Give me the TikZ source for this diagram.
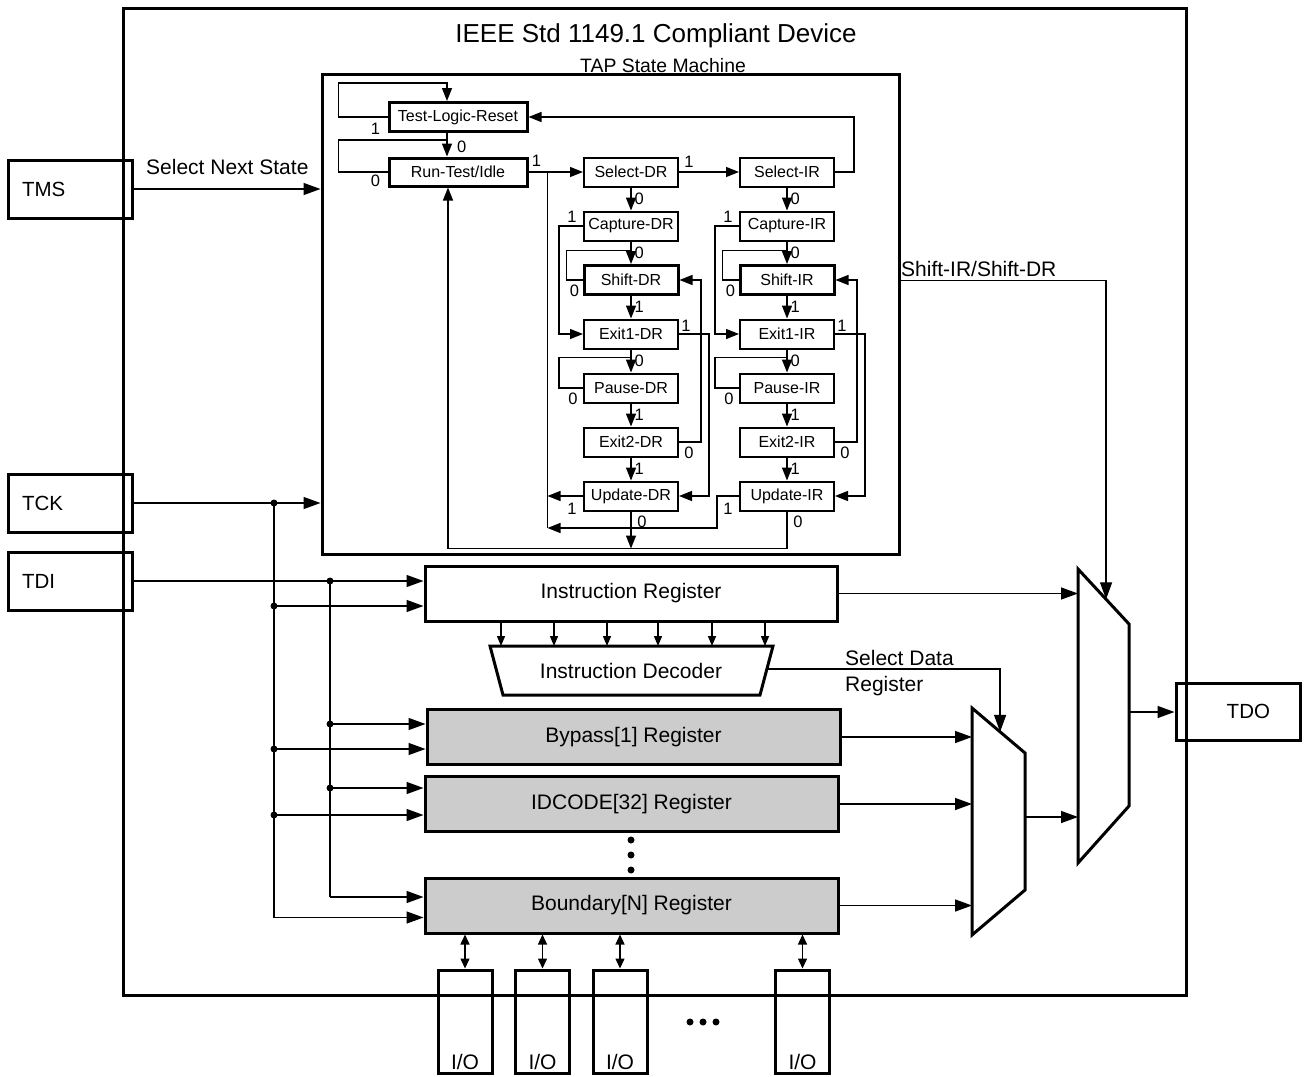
\documentclass[tikz,border=0pt]{standalone}
\usepackage{fontspec}
\setmainfont{Liberation Sans}
\usetikzlibrary{arrows.meta,calc}
\begin{document}
\begin{tikzpicture}[x=1pt,y=-1pt,
  ln/.style={line width=1.4pt},
  arr/.style={ln,-{Triangle[length=13pt,width=10pt]}},
  barr/.style={ln,-{Triangle[length=17pt,width=12pt]}},
  sarr/.style={ln,-{Triangle[length=10pt,width=8pt]}},
  darr/.style={ln,{Triangle[length=10pt,width=9pt]}-{Triangle[length=10pt,width=9pt]}},
  st/.style={draw,line width=2pt,minimum width=94pt,minimum height=29pt,inner sep=0pt,font=\fontsize{16}{18}\selectfont},
  stk/.style={st,line width=3pt},
  lbl/.style={font=\fontsize{16.5}{18}\selectfont,inner sep=0pt},
  reg/.style={draw,line width=3pt,minimum width=413pt,minimum height=55pt,inner sep=0pt,font=\fontsize{21}{24}\selectfont},
  greg/.style={reg,fill=black!20},
  pinbox/.style={draw,line width=3pt,minimum width=124pt,minimum height=58pt,inner xsep=14pt,text width=96pt,align=left,font=\fontsize{20.5}{24}\selectfont},
  iobox/.style={draw,line width=3pt,minimum width=54pt,minimum height=103pt,inner sep=0pt},
  bdot/.style={circle,fill,inner sep=0pt,minimum size=7pt},
  txt/.style={font=\fontsize{21}{26}\selectfont,inner sep=0pt},
  thick3/.style={line width=3pt}
]
\useasboundingbox (0,0) rectangle (1306,1076);

% device
\node[draw,thick3,minimum width=1063pt,minimum height=987pt,inner sep=0pt] (dev) at (654.5,501.5) {};
\node[font=\fontsize{26}{30}\selectfont,inner sep=0pt] (title) at (656,36) {IEEE Std 1149.1 Compliant Device};
\node[font=\fontsize{19.4}{22}\selectfont,inner sep=0pt] (taptitle) at (663,66) {TAP State Machine};

% TAP box
\node[draw,thick3,minimum width=577pt,minimum height=480pt,inner sep=0pt] (tap) at (610.5,314) {};

% states
\node[stk,minimum width=138pt] (tlr) at (458,117) {Test-Logic-Reset};
\node[stk,minimum width=138pt,minimum height=28pt] (rti) at (458,172) {Run-Test/Idle};

\foreach \cc/\xx/\ss in {dr/631/DR,ir/787/IR}{
  \node[st] (sel\cc) at (\xx,172) {Select-\ss};
  \node[st] (cap\cc) at (\xx,226) {Capture-\ss};
  \node[stk] (sh\cc) at (\xx,280) {Shift-\ss};
  \node[st] (ea\cc) at (\xx,334) {Exit1-\ss};
  \node[st] (pa\cc) at (\xx,388) {Pause-\ss};
  \node[st] (eb\cc) at (\xx,442) {Exit2-\ss};
  \node[st] (up\cc) at (\xx,496) {Update-\ss};
  \draw[arr] (sel\cc.south) -- (cap\cc.north) node[lbl,midway,right=3pt] {0};
  \draw[arr] (cap\cc.south) -- (sh\cc.north) node[lbl,midway,right=3pt] {0};
  \draw[arr] (sh\cc.south) -- (ea\cc.north) node[lbl,midway,right=3pt] {1};
  \draw[arr] (ea\cc.south) -- (pa\cc.north) node[lbl,midway,right=3pt] {0};
  \draw[arr] (pa\cc.south) -- (eb\cc.north) node[lbl,midway,right=3pt] {1};
  \draw[arr] (eb\cc.south) -- (up\cc.north) node[lbl,midway,right=3pt] {1};
  \draw[arr] (cap\cc.west) -- ++(-24,0) |- (ea\cc.west);
  \node[lbl] (lc\cc) at ($(cap\cc.west)+(-11,-9)$) {1};
  \draw[ln] (sh\cc.west) -- ++(-16,0) |- ($(cap\cc.south)+(0,9)$);
  \node[lbl] (ls\cc) at ($(sh\cc.west)+(-8,11)$) {0};
  \draw[arr] (ea\cc.east) -- ++(30,0) |- (up\cc.east);
  \node[lbl] (le\cc) at ($(ea\cc.east)+(7,-8)$) {1};
  \draw[ln] (pa\cc.west) -- ++(-24,0) |- ($(ea\cc.south)+(0,8)$);
  \node[lbl] (lp\cc) at ($(pa\cc.west)+(-10,11)$) {0};
  \draw[arr] (eb\cc.east) -- ++(22,0) |- (sh\cc.east);
  \node[lbl] (lx\cc) at ($(eb\cc.east)+(10,11)$) {0};
  \node[lbl] (lu\cc) at ($(up\cc.west)+(-11,13)$) {1};
  \node[lbl] (lv\cc) at ($(up\cc.south)+(11,10)$) {0};
}

% TLR / RTI connections
\draw[arr] ($(tlr.south)+(-11,0)$) -- ($(rti.north)+(-11,0)$);
\node[lbl,anchor=west] (l0a) at ($(tlr.south)+(-1,14)$) {0};
\draw[arr] (tlr.west) -- ++(-49,0) -- ++(0,-34) -| ($(tlr.north)+(-11,0)$);
\node[lbl] (l1a) at ($(tlr.west)+(-12,12)$) {1};
\draw[ln] (rti.west) -- ++(-49,0) |- ($(tlr.south)+(-11,7)$);
\node[lbl] (l0b) at ($(rti.west)+(-12,9)$) {0};
\draw[arr] (rti.east) -- (seldr.west);
\node[lbl] (l1b) at ($(rti.east)+(8,-11)$) {1};
\coordinate (vl) at ($(rti.east)+(19,0)$);
\coordinate (vlb) at ($(vl)+(0,356)$);
\draw[ln] (vl) -- (vlb);
\draw[arr] (updr.west) -- (vl |- updr.west);
\draw[arr] (upir.west) -- ++(-22,0) |- (vlb);
\draw[arr] (seldr.east) -- (selir.west);
\node[lbl] (l1c) at ($(seldr.east)+(10,-10)$) {1};
\draw[arr] (selir.east) -- ++(19,0) |- (tlr.east);
\draw[arr] (upir.south) -- ++(0,37) -| ($(rti.south)+(-10,0)$);
\draw[arr] (updr.south) -- ++(0,37);

% pins
\node[pinbox] (tms) at (70,189) {TMS};
\node[pinbox] (tck) at (70,503) {TCK};
\node[pinbox] (tdi) at (70,581) {TDI};
\node[pinbox,text width=64pt,inner xsep=30pt,align=right,minimum height=57pt] (tdo) at (1238,711.5) {TDO};

\draw[barr] (tms.east) -- (tap.west |- tms.east);
\node[txt,anchor=west] (sns) at (146,167) {Select Next State};
\draw[barr] (tck.east) -- (tap.west |- tck.east);

% registers
\node[reg,minimum width=412pt] (ir) at (631,593.5) {Instruction Register};
\node[greg] (byp) at (633.5,737) {Bypass[1] Register};
\node[greg] (idc) at (631.5,804) {IDCODE[32] Register};
\node[greg] (bnd) at (631.5,905.5) {Boundary[N] Register};

% buses
\coordinate (ckbus) at (274,0);
\coordinate (dibus) at (330,0);
\draw[barr] (tdi.east) -- (ir.west |- tdi.east);
\draw[ln] (ckbus |- tck.east) -- ($(ckbus |- bnd.west)+(0,12)$);
\draw[barr] ($(ckbus |- bnd.west)+(0,12)$) -- ($(bnd.west)+(0,12)$);
\draw[ln] (dibus |- tdi.east) -- ($(dibus |- bnd.west)+(0,-8.5)$);
\draw[barr] ($(dibus |- bnd.west)+(0,-8.5)$) -- ($(bnd.west)+(0,-8.5)$);
\node[bdot] (dck0) at (ckbus |- tck.east) {};
\node[bdot] (ddi0) at (dibus |- tdi.east) {};
\foreach \rr/\dc in {ir/12.5, byp/12, idc/11}{
  \node[bdot] (dck\rr) at ($(ckbus |- \rr.west)+(0,\dc)$) {};
  \draw[barr] (dck\rr.center) -- ($(\rr.west)+(0,\dc)$);
}
\foreach \rr/\dd in {byp/-13, idc/-16}{
  \node[bdot] (ddi\rr) at ($(dibus |- \rr.west)+(0,\dd)$) {};
  \draw[barr] (ddi\rr.center) -- ($(\rr.west)+(0,\dd)$);
}

% decoder
\coordinate (dtl) at (490,646);
\coordinate (dtr) at (773,646);
\coordinate (dbr) at (760,695);
\coordinate (dbl) at (503,695);
\draw[thick3,line join=miter] (dtl) -- (dtr) -- (dbr) -- (dbl) -- cycle;
\node[txt] (dec) at (631,670.5) {Instruction Decoder};
\foreach \xx in {501,554,607,658,712,765}{
  \draw[sarr] (ir.south -| \xx,0) -- (dtl -| \xx,0);
}

% muxes
\coordinate (m1a) at (972,708);
\coordinate (m1b) at (1025,753);
\coordinate (m1c) at (1025,890);
\coordinate (m1d) at (972,935);
\draw[thick3,line join=miter] (m1a) -- (m1b) -- (m1c) -- (m1d) -- cycle;
\coordinate (m2a) at (1078,569);
\coordinate (m2b) at (1129,624);
\coordinate (m2c) at (1129,806);
\coordinate (m2d) at (1078,863);
\draw[thick3,line join=miter] (m2a) -- (m2b) -- (m2c) -- (m2d) -- cycle;

\draw[barr] ($(dtr)!0.47!(dbr)$) -| ($(m1a)!0.53!(m1b)$);
\node[txt,align=left,anchor=north west] (sdrl) at (845,650) {Select Data\\Register};
\draw[barr] ($(tap.north east)+(0,208)$) -| ($(m2a)!0.55!(m2b)$);
\node[txt,anchor=base west] (shl) at (901,276) {Shift-IR/Shift-DR};

\draw[barr] (ir.east) -- (m2a |- ir.east);
\draw[barr] (byp.east) -- (m1a |- byp.east);
\draw[barr] (idc.east) -- (m1a |- idc.east);
\draw[barr] (bnd.east) -- (m1a |- bnd.east);
\coordinate (m1o) at (1025,817);
\draw[barr] (m1o) -- (m2a |- m1o);
\coordinate (m2o) at (1129,712);
\draw[barr] (m2o) -- (tdo.west |- m2o);

% vertical dots
\foreach \yy in {840,855,870}{
  \node[bdot] (vd\yy) at (631,\yy) {};
}

% I/O
\foreach \nn/\xx in {1/465,2/542.5,3/620,4/802.5}{
  \node[iobox] (io\nn) at (\xx,1021.5) {};
  \node[txt] (iot\nn) at ($(io\nn.south)+(0,-13)$) {I/O};
  \draw[darr] (bnd.south -| io\nn.north) -- (io\nn.north);
}
\foreach \xx in {690,703,716}{
  \node[bdot] (ed\xx) at (\xx,1022) {};
}
\end{tikzpicture}
\end{document}
